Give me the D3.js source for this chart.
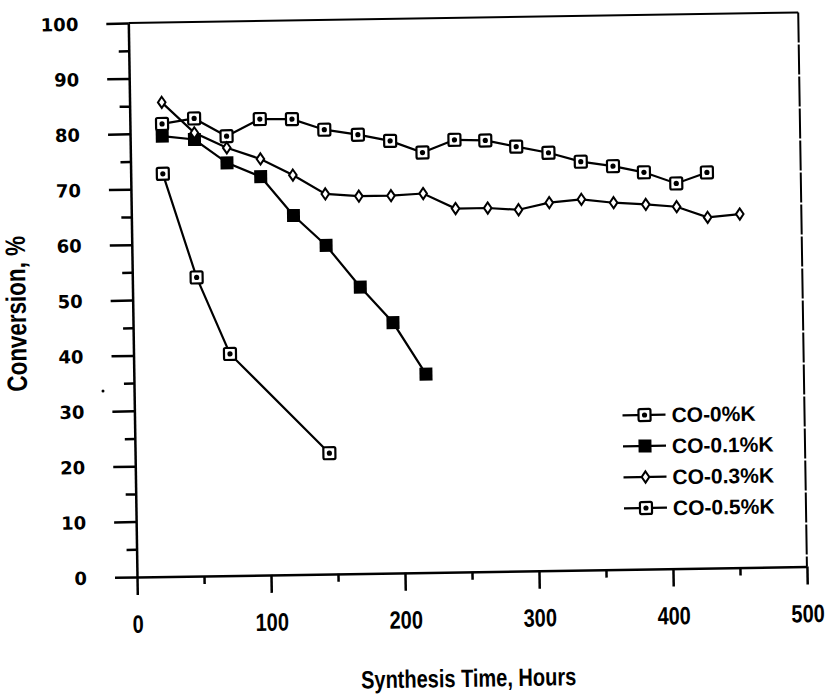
<!DOCTYPE html>
<html>
<head>
<meta charset="utf-8">
<script src="https://cdn.jsdelivr.net/npm/d3@7/dist/d3.min.js"></script>
<style>
  body { margin: 0; background: #fff; }
  .lbl { font-family: "Liberation Sans", Arial, sans-serif; font-weight: bold; fill: #000; }
  .wide { font-family: "DejaVu Sans", sans-serif; font-weight: bold; fill: #000; }
</style>
</head>
<body>
<script>
// series
const seriesNames = ["CO-0%K", "CO-0.1%K", "CO-0.3%K", "CO-0.5%K"];
const hours0 = [24, 48, 72, 97, 121, 145, 170, 194, 218, 242, 265, 288, 312, 336, 360, 383, 407, 430];
const conv0 = [81.7, 82.6, 79.3, 82.3, 82.2, 80.2, 79.2, 78.0, 75.8, 78.0, 77.8, 76.6, 75.4, 73.7, 72.8, 71.6, 69.5, 71.4];
const hours01 = [24, 48, 72, 97, 121, 145, 170, 194, 218];
const conv01 = [79.5, 78.8, 74.5, 71.9, 64.8, 59.3, 51.7, 45.2, 35.8];
const hours03 = [24, 48, 72, 97, 121, 145, 170, 194, 218, 242, 266, 289, 312, 336, 360, 384, 407, 430, 454];
const conv03 = [85.6, 80.0, 77.2, 75.1, 72.1, 68.6, 68.1, 68.1, 68.4, 65.6, 65.6, 65.2, 66.4, 66.9, 66.2, 65.8, 65.3, 63.3, 63.8];
const hours05 = [24, 48, 72, 145];
const conv05 = [72.7, 53.9, 40.0, 21.8];
const markerKinds = ["dotsq", "fillsq", "diamond", "dotsq"];

const xTicks = [0, 100, 200, 300, 400, 500];
const yTicks = [0, 10, 20, 30, 40, 50, 60, 70, 80, 90, 100];

const W = 827, H = 694;
const x0 = 137, y0 = 577;   // origin of the plot
const plotW = 670, plotH = 554;
const squeeze = 0.8;        // condensed lettering of the axis texts

const svg = d3.select("body").append("svg")
    .attr("width", W)
    .attr("height", H);

// the scan is tilted a little, so the whole figure is turned around the origin
const g = svg.append("g")
    .attr("transform", "rotate(-0.9," + x0 + "," + y0 + ")");

const x = d3.scaleLinear().domain([0, 500]).range([x0, x0 + plotW]);
const y = d3.scaleLinear().domain([0, 100]).range([y0, y0 - plotH]);

// frame (top and right)
g.append("line").attr("x1", x0).attr("x2", x(500)).attr("y1", y(100)).attr("y2", y(100))
    .attr("stroke", "#000").attr("stroke-width", 2);
g.append("line").attr("x1", x(500)).attr("x2", x(500)).attr("y1", y(100)).attr("y2", y0)
    .attr("stroke", "#000").attr("stroke-width", 2).attr("stroke-dasharray", "30,2");

// minor ticks
g.append("g").attr("transform", "translate(" + x0 + ",0)")
    .call(d3.axisLeft(y).tickValues(d3.range(5, 100, 10)).tickSize(10).tickFormat(""))
    .call(a => a.select(".domain").remove());
g.append("g").attr("transform", "translate(0," + y0 + ")")
    .call(d3.axisBottom(x).tickValues(d3.range(50, 500, 100)).tickSize(8).tickFormat(""))
    .call(a => a.select(".domain").remove());

// major ticks + axis lines
const yAxis = g.append("g").attr("transform", "translate(" + x0 + ",0)")
    .call(d3.axisLeft(y).tickValues(yTicks).tickSize(22).tickSizeOuter(0).tickPadding(28));
const xAxis = g.append("g").attr("transform", "translate(0," + y0 + ")")
    .call(d3.axisBottom(x).tickValues(xTicks).tickSize(18).tickSizeOuter(0).tickPadding(20));

g.selectAll(".tick line").attr("stroke", "#000").attr("stroke-width", 2.5);
g.selectAll(".domain").attr("stroke", "#000").attr("stroke-width", 2.5);

yAxis.selectAll("text").attr("class", "wide").style("font-size", "18px").attr("dy", "0.36em");
xAxis.selectAll("text").attr("class", "lbl").style("font-size", "25px")
    .attr("transform", "scale(" + squeeze + ",1)");

// axis titles
g.append("g")
    .attr("transform", "translate(30," + (y0 - plotH / 2 + 12) + ") rotate(-90) scale(" + squeeze + ",1)")
    .append("text")
    .attr("class", "lbl")
    .attr("text-anchor", "middle")
    .style("font-size", "28px")
    .text("Conversion, %");

g.append("g")
    .attr("transform", "translate(" + (x(250) - 5) + ",692) scale(" + squeeze + ",1)")
    .append("text")
    .attr("class", "lbl")
    .attr("text-anchor", "middle")
    .style("font-size", "25px")
    .text("Synthesis Time, Hours");

// series
const seriesData = [
    hours0.map((h, i) => ({ h: h, v: conv0[i] })),
    hours01.map((h, i) => ({ h: h, v: conv01[i] })),
    hours03.map((h, i) => ({ h: h, v: conv03[i] })),
    hours05.map((h, i) => ({ h: h, v: conv05[i] }))
];

const line = d3.line().x(d => x(d.h)).y(d => y(d.v));

function drawMarker(sel, kind) {
    if (kind === "diamond") {
        sel.append("path")
            .attr("d", "M0,-5.6L3.8,0L0,5.6L-3.8,0Z")
            .attr("fill", "#fff").attr("stroke", "#000").attr("stroke-width", 2);
    } else if (kind === "fillsq") {
        sel.append("rect")
            .attr("x", -6.5).attr("y", -6.5).attr("width", 13).attr("height", 13)
            .attr("fill", "#000");
    } else {
        sel.append("rect")
            .attr("x", -6).attr("y", -6).attr("width", 12).attr("height", 12).attr("rx", 1.5)
            .attr("fill", "#fff").attr("stroke", "#000").attr("stroke-width", 2.2);
        sel.append("circle").attr("r", 2.6).attr("fill", "#000");
    }
}

seriesData.forEach((pts, k) => {
    g.append("path")
        .datum(pts)
        .attr("d", line)
        .attr("fill", "none")
        .attr("stroke", "#000")
        .attr("stroke-width", 2.2);

    g.selectAll(".m" + k)
        .data(pts)
        .enter().append("g")
        .attr("class", "m" + k)
        .attr("transform", d => "translate(" + x(d.h) + "," + y(d.v) + ")")
        .each(function() { drawMarker(d3.select(this), markerKinds[k]); });
});

// legend
const legend = g.append("g").attr("transform", "translate(625,423)");
seriesNames.forEach((name, i) => {
    const row = legend.append("g").attr("transform", "translate(0," + (i * 31) + ")");
    row.append("line").attr("x1", 0).attr("x2", 43).attr("y1", 0).attr("y2", 0)
        .attr("stroke", "#000").attr("stroke-width", 2.2);
    drawMarker(row.append("g").attr("transform", "translate(22,0)"), markerKinds[i]);
    row.append("text")
        .attr("class", "lbl")
        .attr("x", 49)
        .attr("dy", "0.36em")
        .style("font-size", "21px")
        .text(name);
});

// stray speck in the scan, left of the axis
svg.append("circle").attr("cx", 103).attr("cy", 391).attr("r", 1.5).attr("fill", "#000");
</script>
</body>
</html>
